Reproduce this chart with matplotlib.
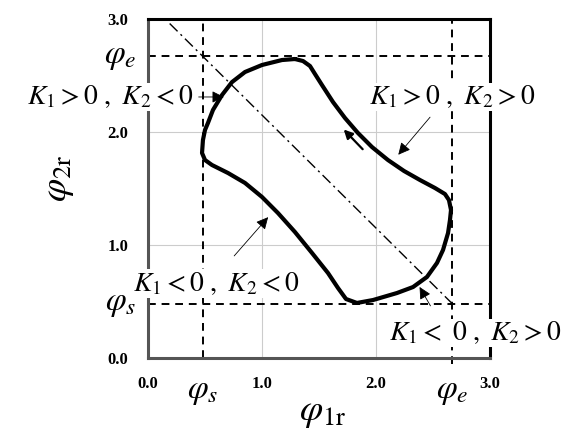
import numpy as np
import matplotlib
matplotlib.use('Agg')
import matplotlib.pyplot as plt

plt.rcParams['font.family'] = ['Liberation Serif', 'DejaVu Serif']
plt.rcParams['mathtext.fontset'] = 'stix'

# data
phi_s = 0.48
phi_e = 2.67

curve_x = [1.289, 1.360, 1.421, 1.465, 1.526, 1.623, 1.728, 1.842, 1.965, 2.105,
           2.246, 2.386, 2.518, 2.605, 2.640, 2.658, 2.649, 2.632, 2.588, 2.535,
           2.447, 2.325, 2.184, 1.974, 1.833, 1.737, 1.667, 1.579, 1.439, 1.289,
           1.140, 1.000, 0.851, 0.702, 0.561, 0.500, 0.474, 0.482, 0.500, 0.526,
           0.570, 0.649, 0.737, 0.851, 1.000, 1.175, 1.289]
curve_y = [2.646, 2.628, 2.584, 2.513, 2.416, 2.265, 2.124, 1.991, 1.867, 1.752,
           1.655, 1.575, 1.504, 1.451, 1.398, 1.310, 1.221, 1.106, 0.956, 0.841,
           0.717, 0.628, 0.575, 0.513, 0.487, 0.522, 0.619, 0.752, 0.929, 1.115,
           1.283, 1.425, 1.549, 1.637, 1.708, 1.752, 1.814, 1.929, 2.018, 2.080,
           2.195, 2.327, 2.442, 2.531, 2.593, 2.637, 2.646]

diag_x = [0.19, 2.68]
diag_y = [2.96, 0.47]

tick_vals = [0.0, 1.0, 2.0, 3.0]
tick_labels = ['0.0', '1.0', '2.0', '3.0']

# (text, text pos, arrow tail, arrow head)
region_labels = [
    (r'$K_1 > 0\ ,\ K_2 < 0$', (-0.33, 2.31), (0.42, 2.31), (0.69, 2.31)),
    (r'$K_1 > 0\ ,\ K_2 > 0$', (2.67, 2.31), (2.49, 2.15), (2.18, 1.78)),
    (r'$K_1 < 0\ ,\ K_2 < 0$', (0.60, 0.66), (0.74, 0.885), (1.07, 1.265)),
    (r'$K_1{<}\ 0\ ,\ K_2 > 0$', (2.87, 0.22), (2.49, 0.44), (2.37, 0.65)),
]

fig = plt.figure(figsize=(5.82, 4.37), dpi=100)
ax = fig.add_axes([0.2543, 0.1808, 0.5876, 0.7757])
ax.set_xlim(0, 3)
ax.set_ylim(0, 3)

# grid
for v in [1.0, 2.0]:
    ax.axvline(v, color='#cccccc', lw=0.8, zorder=0)
    ax.axhline(v, color='#cccccc', lw=0.8, zorder=0)

# dashed boundary lines
dash = dict(color='black', lw=1.4, dashes=(4, 3))
ax.plot([phi_s, phi_s], [0, 3], **dash)
ax.plot([phi_e, phi_e], [-0.05, 3], clip_on=False, **dash)
ax.plot([0, 3], [phi_s, phi_s], **dash)
ax.plot([0, 3], [phi_e, phi_e], **dash)

# dash-dot diagonal
ax.plot(diag_x, diag_y, color='black', lw=1.0, dashes=(8, 3, 1.5, 3))

# closed curve
ax.plot(curve_x, curve_y, color='black', lw=3.0, solid_joinstyle='round',
        solid_capstyle='round', zorder=3)

# direction arrow
ax.annotate('', xy=(1.70, 2.04), xytext=(1.90, 1.83),
            arrowprops=dict(arrowstyle='-|>', color='black', lw=1.6, mutation_scale=13))

for txt, tpos, tail, head in region_labels:
    ax.text(tpos[0], tpos[1], txt, fontsize=20, ha='center', va='center', zorder=5,
            bbox=dict(facecolor='white', edgecolor='none', pad=0.5))
    ax.annotate('', xy=head, xytext=tail, zorder=4,
                arrowprops=dict(arrowstyle='-|>', color='black', lw=0.6, mutation_scale=18))

# axis ticks
ax.set_xticks(tick_vals)
ax.set_xticklabels(tick_labels, fontweight='bold', fontsize=12)
ax.set_yticks(tick_vals)
ax.set_yticklabels(tick_labels, fontweight='bold', fontsize=12)
ax.tick_params(length=0)
ax.tick_params(axis='x', pad=13)
ax.tick_params(axis='y', pad=14)

# phi_s / phi_e markers
ax.text(phi_s, -0.30, r'$\varphi_s$', fontsize=24, ha='center', va='center')
ax.text(phi_e, -0.30, r'$\varphi_e$', fontsize=24, ha='center', va='center')
ax.text(-0.10, phi_s, r'$\varphi_s$', fontsize=24, ha='right', va='center')
ax.text(-0.10, phi_e, r'$\varphi_e$', fontsize=24, ha='right', va='center')

ax.set_xlabel(r'$\varphi_{1\mathrm{r}}$', fontsize=27)
ax.set_ylabel(r'$\varphi_{2\mathrm{r}}$', fontsize=27)
ax.xaxis.set_label_coords(0.51, -0.11)
ax.yaxis.set_label_coords(-0.21, 0.53)

# frame
for side in ['top', 'right']:
    ax.spines[side].set_linewidth(2.2)
    ax.spines[side].set_color('black')
for side in ['left', 'bottom']:
    ax.spines[side].set_linewidth(2.2)
    ax.spines[side].set_color('#555555')

fig.savefig('out.png', dpi=100, facecolor='white')
